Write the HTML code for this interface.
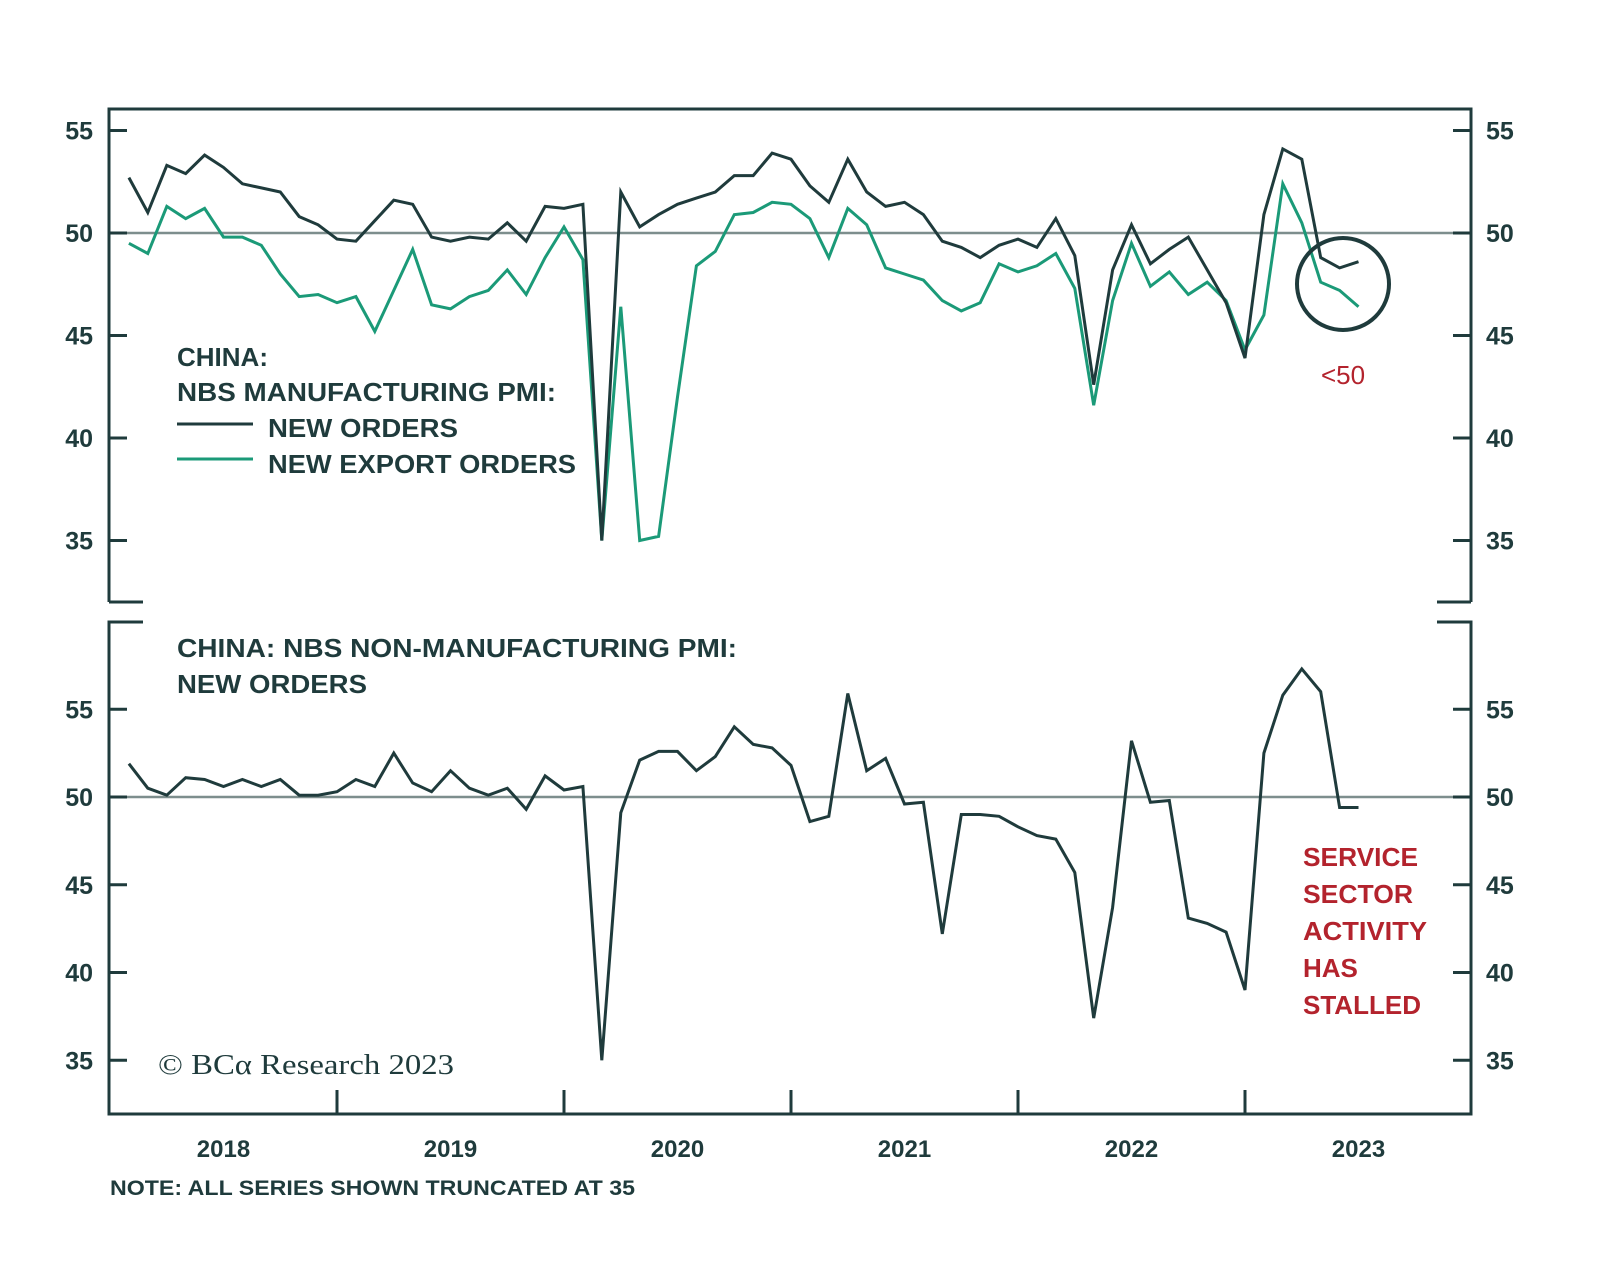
<!DOCTYPE html>
<html><head><meta charset="utf-8"><style>
html,body{margin:0;padding:0;background:#fff;}
svg{display:block;font-family:"Liberation Sans",sans-serif;}
</style></head><body>
<svg id="chart" width="1600" height="1279" viewBox="0 0 1600 1279" xmlns="http://www.w3.org/2000/svg">
<g id="frame" stroke="#1f3b3c" stroke-width="3" fill="none">
  <path d="M109,602 L109,109 L1471,109 L1471,602 M109,602 L143,602 M1437,602 L1471,602"/>
  <path d="M143,622 L109,622 L109,1114 L1471,1114 L1471,622 L1437,622"/>
</g>
<g id="topPanel"></g>
<g id="botPanel"></g>
<g fill="#1f3b3c" font-weight="bold" font-size="26">
  <text x="177" y="366">CHINA:</text>
  <text x="177" y="401" textLength="379" lengthAdjust="spacingAndGlyphs">NBS MANUFACTURING PMI:</text>
  <line x1="177" y1="424" x2="253" y2="424" stroke="#1f3b3c" stroke-width="3"/>
  <text x="268" y="437" textLength="190" lengthAdjust="spacingAndGlyphs">NEW ORDERS</text>
  <line x1="177" y1="459" x2="253" y2="459" stroke="#1b9a78" stroke-width="3"/>
  <text x="268" y="473" textLength="308" lengthAdjust="spacingAndGlyphs">NEW EXPORT ORDERS</text>
</g>
<g fill="#1f3b3c" font-weight="bold" font-size="26">
  <text x="177" y="657" textLength="560" lengthAdjust="spacingAndGlyphs">CHINA: NBS NON-MANUFACTURING PMI:</text>
  <text x="177" y="693" textLength="190" lengthAdjust="spacingAndGlyphs">NEW ORDERS</text>
</g>
<g>
  <ellipse cx="1343" cy="284" rx="46" ry="46" fill="none" stroke="#1f3b3c" stroke-width="4"/>
  <text x="1343" y="384" text-anchor="middle" fill="#b3232d" font-size="26">&lt;50</text>
</g>
<g fill="#b3232d" font-weight="bold" font-size="26">
  <text x="1303" y="866" textLength="115" lengthAdjust="spacingAndGlyphs">SERVICE</text>
  <text x="1303" y="903" textLength="110" lengthAdjust="spacingAndGlyphs">SECTOR</text>
  <text x="1303" y="940" textLength="124" lengthAdjust="spacingAndGlyphs">ACTIVITY</text>
  <text x="1303" y="977">HAS</text>
  <text x="1303" y="1014" textLength="118" lengthAdjust="spacingAndGlyphs">STALLED</text>
</g>
<text x="158" y="1074" font-family="Liberation Serif,serif" font-size="29" fill="#1f3b3c" textLength="296" lengthAdjust="spacingAndGlyphs">© BCα Research 2023</text>
<text x="110" y="1195" font-weight="bold" font-size="21" fill="#1f3b3c" textLength="525" lengthAdjust="spacingAndGlyphs">NOTE: ALL SERIES SHOWN TRUNCATED AT 35</text>
<g id="xaxis"></g>
</svg>
<script>
const years = ["2018","2019","2020","2021","2022","2023"];
const yTicks = [35,40,45,50,55];
const newOrders = [52.7,51.0,53.3,52.9,53.8,53.2,52.4,52.2,52.0,50.8,50.4,49.7,
 49.6,50.6,51.6,51.4,49.8,49.6,49.8,49.7,50.5,49.6,51.3,51.2,
 51.4,35.0,52.0,50.3,50.9,51.4,51.7,52.0,52.8,52.8,53.9,53.6,
 52.3,51.5,53.6,52.0,51.3,51.5,50.9,49.6,49.3,48.8,49.4,49.7,
 49.3,50.7,48.9,42.6,48.2,50.4,48.5,49.2,49.8,48.2,46.6,43.9,
 50.9,54.1,53.6,48.8,48.3,48.6];
const newExportOrders = [49.5,49.0,51.3,50.7,51.2,49.8,49.8,49.4,48.0,46.9,47.0,46.6,
 46.9,45.2,47.2,49.2,46.5,46.3,46.9,47.2,48.2,47.0,48.8,50.3,
 48.7,35.0,46.4,35.0,35.2,42.0,48.4,49.1,50.9,51.0,51.5,51.4,
 50.7,48.8,51.2,50.4,48.3,48.0,47.7,46.7,46.2,46.6,48.5,48.1,
 48.4,49.0,47.3,41.6,46.7,49.5,47.4,48.1,47.0,47.6,46.7,44.3,
 46.0,52.4,50.5,47.6,47.2,46.4];
const nonMfgNewOrders = [51.9,50.5,50.1,51.1,51.0,50.6,51.0,50.6,51.0,50.1,50.1,50.3,
 51.0,50.6,52.5,50.8,50.3,51.5,50.5,50.1,50.5,49.3,51.2,50.4,
 50.6,35.0,49.1,52.1,52.6,52.6,51.5,52.3,54.0,53.0,52.8,51.8,
 48.6,48.9,55.9,51.5,52.2,49.6,49.7,42.2,49.0,49.0,48.9,48.3,
 47.8,47.6,45.7,37.4,43.7,53.2,49.7,49.8,43.1,42.8,42.3,39.0,
 52.5,55.8,57.3,56.0,49.4,49.4];

const NS="http://www.w3.org/2000/svg";
const DARK="#1f3b3c", GREEN="#1b9a78";
const x0=110, yearW=227, monthW=yearW/12;
function xPos(i){ return x0 + monthW*(i+1); }
function yTop(v){ return 233 - (v-50)*20.5; }
function yBot(v){ return 797 - (v-50)*17.55; }
function mk(tag, attrs, parent){
  const el=document.createElementNS(NS,tag);
  for(const k in attrs) el.setAttribute(k,attrs[k]);
  parent.appendChild(el); return el;
}
function panel(g, yf, name){
  const ref=mk('line',{x1:109,x2:1471,y1:yf(50),y2:yf(50),stroke:'#7d8e8d','stroke-width':2.5},g);
  
  
  yTicks.forEach(t=>{
    const y=yf(t);
    const tl=mk('line',{x1:109,x2:127,y1:y,y2:y,stroke:DARK,'stroke-width':3},g);
    
    
    const tr=mk('line',{x1:1453,x2:1471,y1:y,y2:y,stroke:DARK,'stroke-width':3},g);
    
    
    const a=mk('text',{x:93,y:y+9,'text-anchor':'end','font-size':25,'font-weight':'bold',fill:DARK},g);
    a.textContent=t;
    
    
    const b=mk('text',{x:1486,y:y+9,'font-size':25,'font-weight':'bold',fill:DARK},g);
    b.textContent=t;
    
    
  });
}
function series(g, data, yf, color, name){
  const pts=data.map((v,i)=>xPos(i).toFixed(1)+','+yf(Math.max(v,35)).toFixed(1)).join(' ');
  const p=mk('polyline',{points:pts,fill:'none',stroke:color,'stroke-width':3,'stroke-linejoin':'miter'},g);
  
  
}
const topG=document.getElementById('topPanel'), botG=document.getElementById('botPanel');
panel(topG,yTop,'top');
series(topG,newExportOrders,yTop,GREEN,'new-export-orders-line');
series(topG,newOrders,yTop,DARK,'new-orders-line');
panel(botG,yBot,'bottom');
series(botG,nonMfgNewOrders,yBot,DARK,'non-mfg-new-orders-line');
const xa=document.getElementById('xaxis');
years.forEach((yr,i)=>{
  if(i>0){
    const t=mk('line',{x1:x0+yearW*i,x2:x0+yearW*i,y1:1090,y2:1114,stroke:DARK,'stroke-width':3},xa);
    
    
  }
  const l=mk('text',{x:x0+yearW*i+yearW/2,y:1157,'text-anchor':'middle','font-size':24,'font-weight':'bold',fill:DARK},xa);
  l.textContent=yr;
  
  
});
</script>
</body></html>
